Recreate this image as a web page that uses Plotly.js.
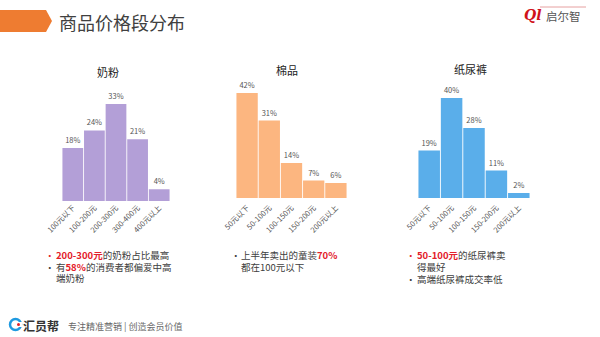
<!DOCTYPE html>
<html>
<head>
<meta charset="utf-8">
<script src="https://cdn.plot.ly/plotly-3.0.1.min.js"></script>
<style>html,body{margin:0;padding:0;background:#fff;}#chart{width:600px;height:337px;}</style>
</head>
<body>
<div id="chart"></div>
<script>
// Data
const milkCats = ['100元以下', '100-200元', '200-300元', '300-400元', '400元以上'];
const milkVals = [18, 24, 33, 21, 4];
const cottonCats = ['50元以下', '50-100元', '100-150元', '150-200元', '200元以上'];
const cottonVals = [42, 31, 14, 7, 6];
const diaperCats = ['50元以下', '50-100元', '100-150元', '150-200元', '200元以上'];
const diaperVals = [19, 40, 28, 11, 2];
const chartTitles = ['奶粉', '棉品', '纸尿裤'];

const FONT = '"Noto Sans CJK SC", "Noto Sans", sans-serif';
const GRAY = '#404040';
const RED = '#e3202a';

function bar(cats, vals, color, xa, ya) {
  return {
    type: 'bar', x: cats, y: vals, xaxis: xa, yaxis: ya,
    marker: {color: color},
    text: vals.map(v => v + '%'), textposition: 'outside', cliponaxis: false,
    textfont: {size: 7.5, color: '#555', family: FONT},
    hoverinfo: 'skip'
  };
}

const data = [
  bar(milkCats, milkVals, '#b39fd7', 'x', 'y'),
  bar(cottonCats, cottonVals, '#fcb680', 'x2', 'y2'),
  bar(diaperCats, diaperVals, '#5aaeea', 'x3', 'y3')
];

function xax(d) {
  return {domain: d, tickangle: -45, tickfont: {size: 7.5, color: '#555', family: FONT},
    showline: false, ticks: '', showgrid: false, zeroline: false, fixedrange: true};
}
function yax(d, r) {
  return {domain: d, range: r, visible: false, showgrid: false, zeroline: false, fixedrange: true};
}

const red = s => '<b><span style="color:' + RED + '">' + s + '</span></b>';

const ann = [];
function txt(x, y, text, opts) {
  ann.push(Object.assign({xref: 'paper', yref: 'paper', x: x / 600, y: 1 - y / 337, text: text,
    showarrow: false, xanchor: 'left', yanchor: 'middle', align: 'left', borderpad: 0,
    font: {size: 9.5, color: GRAY, family: FONT}}, opts || {}));
}
const bullet = (x, y, c) => txt(x, y, '•', {font: {size: 9.5, color: c, family: FONT}});

// header title
txt(58, 22, '商品价格段分布', {font: {size: 18, color: GRAY, family: FONT}});
// logo
txt(523, 15, '<b><i>Ql</i></b>', {font: {size: 14, color: '#d0121b', family: 'DejaVu Serif'}});
txt(545, 16, '启尔智', {font: {size: 11.5, color: '#555', family: FONT}});
// chart titles
txt(108, 72, chartTitles[0], {xanchor: 'center', font: {size: 11, color: '#222', family: FONT}});
txt(287, 70, chartTitles[1], {xanchor: 'center', font: {size: 11, color: '#222', family: FONT}});
txt(470, 69, chartTitles[2], {xanchor: 'center', font: {size: 11, color: '#222', family: FONT}});
// bullets chart 1
bullet(44, 255, RED);
txt(55, 255, red('200-300元') + '的奶粉占比最高');
bullet(44, 266.5, GRAY);
txt(55, 266.5, '有' + red('58%') + '的消费者都偏爱中高');
txt(55, 278, '端奶粉');
// bullets chart 2
bullet(230, 255, GRAY);
txt(240, 255, '上半年卖出的童装' + red('70%'));
txt(240, 266.5, '都在100元以下');
// bullets chart 3
bullet(405, 255, RED);
txt(416, 255, red('50-100元') + '的纸尿裤卖');
txt(416, 266.5, '得最好');
bullet(405, 278.5, GRAY);
txt(416, 278.5, '高端纸尿裤成交率低');
// footer
txt(22, 325, '<b>汇员帮</b>', {font: {size: 12, color: '#333', family: FONT}});
txt(67, 326, '专注精准营销 | 创造会员价值', {font: {size: 9, color: '#666', family: FONT}});

const shapes = [
  // header arrow
  {type: 'path', xref: 'paper', yref: 'paper', line: {width: 0}, fillcolor: '#ee7c31',
   path: 'M 0 ' + (1 - 10/337) + ' L ' + (46/600) + ' ' + (1 - 10/337) + ' L ' + (52/600) + ' ' + (1 - 21/337) +
         ' L ' + (46/600) + ' ' + (1 - 32/337) + ' L 0 ' + (1 - 32/337) + ' Z'},
  // logo line
  {type: 'line', xref: 'paper', yref: 'paper', x0: 540/600, x1: 586/600, y0: 1 - 7/337, y1: 1 - 7/337,
   line: {color: '#e6a0a0', width: 1}},
  // footer icon
  {type: 'circle', xref: 'paper', yref: 'paper', x0: 10/600, x1: 21/600, y0: 1 - 330/337, y1: 1 - 319/337,
   line: {color: '#1f9ae0', width: 2.5}, fillcolor: 'rgba(0,0,0,0)'},
  {type: 'rect', xref: 'paper', yref: 'paper', x0: 16/600, x1: 22/600, y0: 1 - 327/337, y1: 1 - 322/337,
   line: {width: 0}, fillcolor: '#ffffff'},
  {type: 'circle', xref: 'paper', yref: 'paper', x0: 17/600, x1: 20/600, y0: 1 - 326/337, y1: 1 - 323/337,
   line: {width: 0}, fillcolor: '#e3202a'}
];

const layout = {
  width: 600, height: 337, margin: {l: 0, r: 0, t: 0, b: 0},
  paper_bgcolor: '#fff', plot_bgcolor: 'rgba(0,0,0,0)',
  showlegend: false, bargap: 0.04,
  font: {family: FONT},
  xaxis: xax([62/600, 170/600]), yaxis: yax([1 - 201/337, 1 - 83.4/337], [0, 40]),
  xaxis2: xax([236/600, 347/600]), yaxis2: yax([1 - 198/337, 1 - 85.5/337], [0, 45]),
  xaxis3: xax([418/600, 530/600]), yaxis3: yax([1 - 198/337, 1 - 85.5/337], [0, 45]),
  annotations: ann, shapes: shapes
};

Plotly.newPlot('chart', data, layout, {displayModeBar: false, staticPlot: true});
</script>
</body>
</html>
